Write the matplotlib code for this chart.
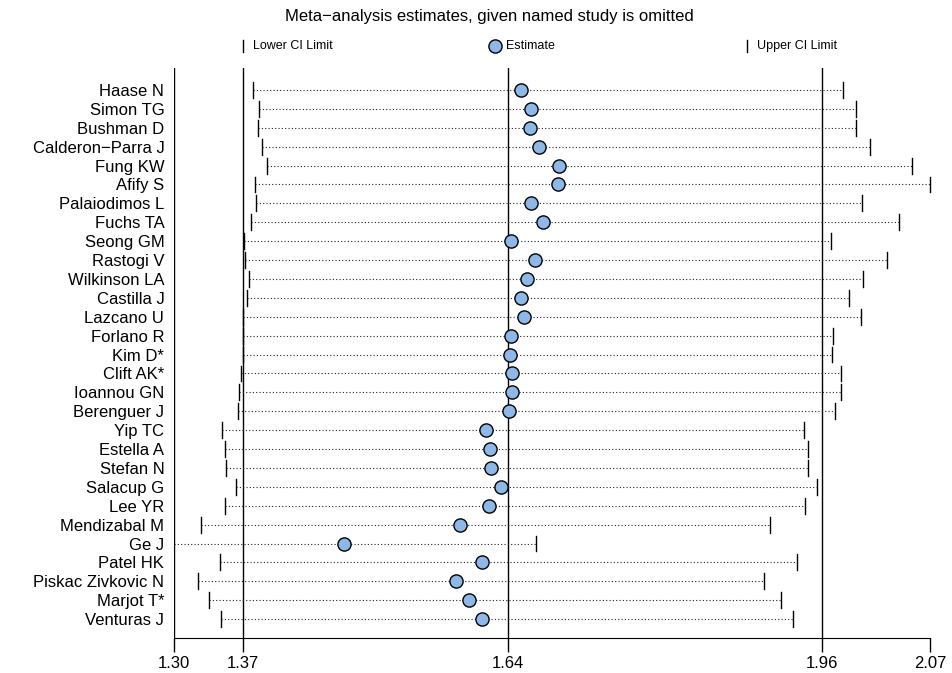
import matplotlib
matplotlib.use("Agg")
import matplotlib.pyplot as plt

plt.rcParams["font.family"] = ["Liberation Sans", "DejaVu Sans"]

studies = ["Haase N", "Simon TG", "Bushman D", "Calderon\u2212Parra J", "Fung KW", "Afify S",
           "Palaiodimos L", "Fuchs TA", "Seong GM", "Rastogi V", "Wilkinson LA", "Castilla J",
           "Lazcano U", "Forlano R", "Kim D*", "Clift AK*", "Ioannou GN", "Berenguer J", "Yip TC",
           "Estella A", "Stefan N", "Salacup G", "Lee YR", "Mendizabal M", "Ge J", "Patel HK",
           "Piskac Zivkovic N", "Marjot T*", "Venturas J"]
est = [1.653, 1.664, 1.663, 1.672, 1.692, 1.691, 1.664, 1.676, 1.643, 1.668, 1.660, 1.653,
       1.656, 1.643, 1.642, 1.644, 1.644, 1.641, 1.618, 1.622, 1.623, 1.633, 1.621, 1.591,
       1.473, 1.614, 1.587, 1.600, 1.614]
lower = [1.380, 1.387, 1.386, 1.390, 1.395, 1.382, 1.384, 1.378, 1.371, 1.372, 1.376, 1.374,
         1.370, 1.370, 1.370, 1.368, 1.366, 1.365, 1.349, 1.352, 1.353, 1.363, 1.352, 1.328,
         1.300, 1.347, 1.324, 1.336, 1.348]
upper = [1.981, 1.995, 1.995, 2.009, 2.052, 2.070, 2.001, 2.038, 1.969, 2.026, 2.002, 1.988,
         2.000, 1.971, 1.970, 1.979, 1.979, 1.973, 1.942, 1.946, 1.946, 1.955, 1.943, 1.907,
         1.669, 1.935, 1.901, 1.918, 1.930]
overall = [1.37, 1.64, 1.96]
xticks = [1.30, 1.37, 1.64, 1.96, 2.07]

fig = plt.figure(figsize=(9.52, 6.73), dpi=100)
ax = fig.add_axes([174 / 952, 1 - 638 / 673, 756 / 952, 570 / 673])
ax.set_xlim(1.30, 2.07)
ax.set_ylim(29.0, -1.164)

fill = "#8DB8E8"
for i, (lo, e, up) in enumerate(zip(lower, est, upper)):
    ax.plot([lo, up], [i, i], ls=(0, (1, 2)), lw=0.8, color="#222222", zorder=2)
    if lo > 1.3005:
        ax.plot([lo, lo], [i - 0.42, i + 0.42], color="black", lw=1, zorder=3, clip_on=False)
    ax.plot([up, up], [i - 0.42, i + 0.42], color="black", lw=1, zorder=3, clip_on=False)
    ax.plot(e, i, "o", ms=9.5, mfc=fill, mec="black", mew=1, zorder=4)

for v in [1.30] + overall:
    ax.axvline(v, color="black", lw=1, zorder=1)

ax.set_yticks(range(len(studies)))
ax.set_yticklabels(studies, fontsize=12)
ax.tick_params(axis="y", length=0, pad=7)
ax.set_xticks(xticks)
ax.set_xticklabels([f"{t:.2f}" for t in xticks], fontsize=12)
ax.tick_params(axis="x", length=10, width=1, pad=3)
for s in ["top", "right", "left"]:
    ax.spines[s].set_visible(False)
ax.spines["bottom"].set_bounds(1.30, 2.07)

# legend row
ly = -2.33
ax.plot([1.37, 1.37], [ly - 0.33, ly + 0.33], color="black", lw=1, clip_on=False)
ax.text(1.38, ly, "Lower CI Limit", fontsize=9, va="center", ha="left")
ax.plot(1.627, ly, "o", ms=9.5, mfc=fill, mec="black", mew=1, clip_on=False)
ax.text(1.638, ly, "Estimate", fontsize=9, va="center", ha="left")
ax.plot([1.884, 1.884], [ly - 0.33, ly + 0.33], color="black", lw=1, clip_on=False)
ax.text(1.894, ly, "Upper CI Limit", fontsize=9, va="center", ha="left")

fig.text(489 / 952, 1 - 16 / 673, "Meta\u2212analysis estimates, given named study is omitted",
         fontsize=12, ha="center", va="center")

fig.savefig("out.png", dpi=100)
